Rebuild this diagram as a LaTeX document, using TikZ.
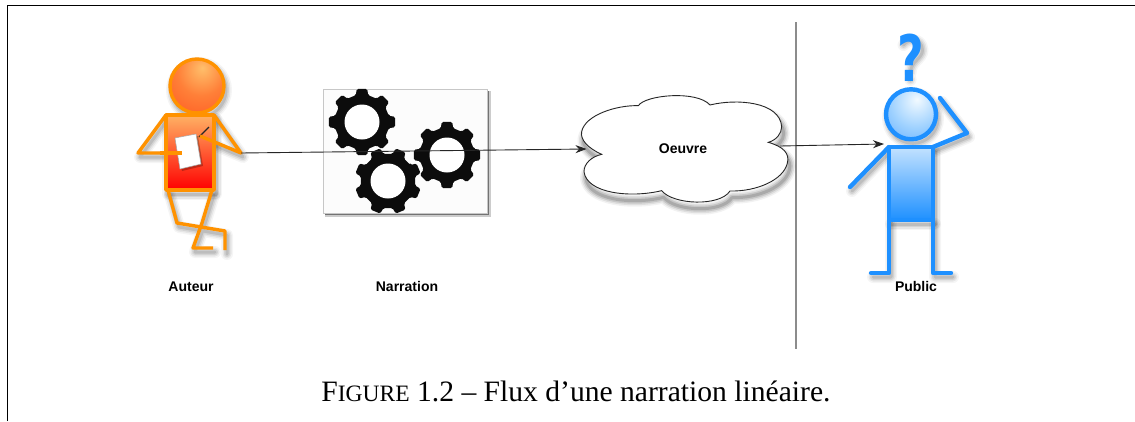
\documentclass[tikz,border=0pt]{standalone}
\usepackage{fontspec}
\usetikzlibrary{arrows.meta}
\setmainfont{Liberation Serif}
\newfontfamily\lblfont{Liberation Sans}[BoldFont={Liberation Sans Bold}]
\newfontfamily\qfont{DejaVu Sans Bold}
\definecolor{orstroke}{RGB}{255,146,0}
\definecolor{ortop}{RGB}{255,178,100}
\definecolor{ormid}{RGB}{255,90,35}
\definecolor{blstroke}{RGB}{30,144,255}
\definecolor{bltop}{RGB}{195,226,255}
\definecolor{gridline}{RGB}{140,140,140}
\definecolor{gearblack}{RGB}{12,12,12}
\pgfdeclareradialshading{orhead}{\pgfpoint{5bp}{17bp}}{rgb(0bp)=(1,.75,.42);rgb(22bp)=(1,.50,.22);rgb(50bp)=(1,.33,.12);rgb(100bp)=(1,.28,.08)}
\pgfdeclareradialshading{blhead}{\pgfpoint{6bp}{15bp}}{rgb(0bp)=(.95,.98,1);rgb(25bp)=(.62,.82,1);rgb(55bp)=(.28,.62,1);rgb(100bp)=(.12,.56,1)}
\tikzset{
  x=1pt,y=-1pt,
  orfig/.style={draw=orstroke,line width=3.4pt,line join=round},
  blfig/.style={draw=blstroke,line width=4.4pt,line join=round,line cap=round},
  lbl/.style={font=\lblfont\bfseries\fontsize{14}{16}\selectfont,inner sep=0pt,text=black,anchor=base},
  flow/.style={draw=black!85,line width=0.9pt,-{Stealth[length=11pt,width=8pt]}},
  gearfill/.style={fill=gearblack,rounded corners=1.5pt},
}
\newcommand{\softshadow}[3]{%
  \begin{scope}[shift={(#1,#2)}]
    \foreach \wd/\op in {12/.04,9/.06,6/.08,3/.1}{
      \draw[black,opacity=\op,line width=\wd pt,line join=round,line cap=round] #3;
    }
  \end{scope}}
\newcommand{\gearshape}[3]{%
  \fill[gearfill,shift={(#1,#2)},rotate=#3] (-13:27.5)
    \foreach \a in {0,45,...,315}{ -- (\a-13:27.5) -- (\a-9:33.5) -- (\a+9:33.5) -- (\a+13:27.5) } -- cycle;
  \fill[white,shift={(#1,#2)}] (0,0) circle (17.5);}
\begin{document}
\begin{tikzpicture}
\useasboundingbox (0,0) rectangle (1135,421);
\fill[white] (0,0) rectangle (1135,421);
% page frame
\coordinate (frameA) at (7.8,421);
\coordinate (frameB) at (7.8,5.5);
\coordinate (frameC) at (1135,5.5);
\draw[black,line width=1.3pt] (frameA) -- (frameB) -- (frameC);
% separator
\coordinate (sepT) at (796,22);
\coordinate (sepB) at (796,349);
\draw[gridline,line width=1.1pt] (sepT) -- (sepB);

% ---- Auteur
\softshadow{2}{4}{(197,86) circle (27)}
\softshadow{2}{4}{(166,115) rectangle (214,190)}
\softshadow{2}{4}{(166,115) -- (138,153) -- (182,153) (214,115) -- (241,153) -- (200,136) (168,191) -- (177,223) -- (225,231) -- (225,250) (212,191) -- (202,223) -- (193,248) -- (213,248)}
\draw[orfig] (168,190) -- (177,223) -- (225,231) -- (225,250);
\draw[orfig] (212,190) -- (202,223) -- (193,248) -- (213,248);
\path[orfig,top color=ortop,middle color=ormid,bottom color=red] (166,115) rectangle (214,190);
\shade[shading=orhead] (197,86) circle (27);
\draw[orfig] (197,86) circle (27);
\draw[orfig] (166,115) -- (138,153) -- (160,153);
\fill[black,opacity=.25] (177,140) -- (198,136) -- (203,166) -- (182,171) -- cycle;
\filldraw[white,draw=gray!70,line width=.5pt] (175,138) -- (196,134) -- (201,164) -- (180,169) -- cycle;
\draw[orstroke,line width=3.2pt] (160,153) -- (182,153);
\draw[black!85,line width=1.2pt] (199,137) -- (209,127);
\draw[orfig] (214,115) -- (241,153) -- (200,136);
\coordinate (hand) at (241,153);

% ---- Narration
\fill[black!20] (325,91) rectangle (490.5,216.5);
\fill[black!55] (325,91) rectangle (489,215);
\filldraw[fill=black!1,draw=black!22,line width=.8pt] (323,89) rectangle (487,213);
\gearshape{362}{122}{0}
\gearshape{388}{181}{22.5}
\gearshape{447}{155}{0}

% ---- Oeuvre cloud
\begin{scope}[shift={(560,90)},x=0.3333pt,y=-0.3333pt]
  \def\cloudpath{(125,193) .. controls (85,175) and (60,150) .. (65,125)
    .. controls (75,75) and (170,45) .. (235,47)
    .. controls (255,15) and (410,0) .. (450,45)
    .. controls (530,25) and (660,35) .. (665,110)
    .. controls (665,130) and (650,150) .. (625,157)
    .. controls (670,170) and (690,190) .. (682,220)
    .. controls (670,270) and (590,305) .. (510,303)
    .. controls (480,350) and (340,345) .. (305,302)
    .. controls (210,325) and (80,310) .. (72,245)
    .. controls (72,220) and (95,200) .. (125,193) -- cycle}
  \begin{scope}[shift={(6,20)}]
    \foreach \wd/\op in {12/.05,9/.08,6/.11,3/.14}{
      \draw[black,opacity=\op,line width=\wd pt,line join=round] \cloudpath;
    }
  \end{scope}
  \filldraw[fill=white,draw=black!85,line width=.9pt] \cloudpath;
\end{scope}
\coordinate (cloudin) at (586.5,149);
\coordinate (cloudout) at (780,146);

% ---- Public
\softshadow{2}{4}{(911,114.3) circle (25)}
\softshadow{2}{4}{(889,147) rectangle (933,220)}
\softshadow{2}{4}{(889,147) -- (850,187) (933,147) -- (967,133) -- (940,98) (889,220) -- (889,273) -- (871,273) (933,220) -- (933,273) -- (951,273)}
\softshadow{1.5}{3}{(902,42) .. controls (906,36) and (920,34) .. (921,47) .. controls (921,56) and (909,58) .. (909,70) (909,76) -- (909,77)}
\draw[blfig] (889,147) -- (850,187);
\draw[blfig] (933,147) -- (967,133) -- (940,98);
\draw[blfig] (889,220) -- (889,273) -- (871,273);
\draw[blfig] (933,220) -- (933,273) -- (951,273);
\path[blfig,top color=bltop,bottom color=blstroke] (889,147) rectangle (933,220);
\shade[shading=blhead] (911,114.3) circle (25);
\draw[blfig] (911,114.3) circle (25);
\coordinate (viewer) at (884,144);
\node[inner sep=0pt,text=blstroke,font=\qfont\fontsize{64}{70}\selectfont] (qmark) at (910.5,58) {\scalebox{.72}[1]{?}};

% ---- Flows
\draw[flow] (hand) -- (cloudin);
\draw[flow] (cloudout) -- (viewer);

% ---- Labels
\node[lbl] (oeuvre) at (683,153) {Oeuvre};
\node[lbl] (auteur) at (191,291) {Auteur};
\node[lbl] (narration) at (407,291) {Narration};
\node[lbl] (public) at (916,291) {Public};
\node[inner sep=0pt,anchor=base,text=black,font=\fontsize{29.6}{34}\selectfont] (caption) at (576,401)
  {F{\fontsize{23.5}{34}\selectfont IGURE} 1.2 – Flux d’une narration linéaire.};
\end{tikzpicture}
\end{document}
